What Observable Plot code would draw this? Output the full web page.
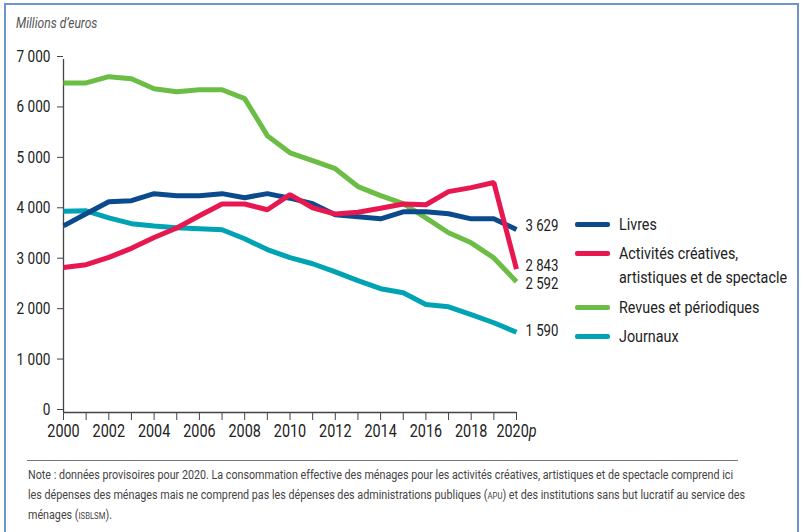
<!DOCTYPE html>
<html><head><meta charset="utf-8">
<script src="https://cdn.jsdelivr.net/npm/d3@7"></script>
<script src="https://cdn.jsdelivr.net/npm/@observablehq/plot@0.6"></script>
<style>
body{margin:0;background:#fff;}
#wrap{position:relative;width:803px;height:532px;overflow:hidden;font-family:Roboto,"Noto Sans",sans-serif;color:#222;background:#fff;}
#frame{position:absolute;left:4px;top:3px;width:795px;height:620px;border:2px solid #6d97cc;box-sizing:border-box;}
#unit{position:absolute;left:16px;top:15px;font-style:italic;font-size:14px;color:#555;white-space:nowrap;transform-origin:0 0;transform:scaleX(0.86);}
#chart{position:absolute;left:0;top:0;}
#sep{position:absolute;left:27px;top:460px;width:711px;height:1px;background:#777;}
.nl{position:absolute;left:28px;font-size:12.5px;line-height:20px;color:#444;white-space:nowrap;transform-origin:0 0;}
.sc{font-size:9px;}
.leg{position:absolute;left:575px;}
.sw{position:absolute;left:0;width:35px;height:5px;border-radius:2px;}
.lt{position:absolute;left:44px;font-size:17px;line-height:24px;white-space:nowrap;color:#222;transform-origin:0 0;}
</style></head>
<body>
<div id="wrap">
  <div id="frame"></div>
  <div id="unit">Millions d’euros</div>
  <div id="chart"></div>
  <div id="legend"></div>
  <div id="sep"></div>
  <div class="nl" id="n1" style="top:465px">Note : données provisoires pour 2020. La consommation effective des ménages pour les activités créatives, artistiques et de spectacle comprend ici</div>
  <div class="nl" id="n2" style="top:485px">les dépenses des ménages mais ne comprend pas les dépenses des administrations publiques (<span class="sc">APU</span>) et des institutions sans but lucratif au service des</div>
  <div class="nl" id="n3" style="top:505px">ménages (<span class="sc">ISBLSM</span>).</div>
</div>
<script>
const years = [2000,2001,2002,2003,2004,2005,2006,2007,2008,2009,2010,2011,2012,2013,2014,2015,2016,2017,2018,2019,2020];
const livres   = [3700,3940,4180,4200,4340,4300,4300,4340,4260,4340,4250,4140,3920,3880,3840,3980,3980,3940,3840,3840,3629];
const activites= [2877,2930,3075,3255,3470,3660,3900,4135,4135,4020,4320,4060,3935,3970,4050,4135,4120,4380,4460,4560,2843];
const revues   = [6535,6535,6660,6620,6420,6360,6400,6400,6225,5490,5150,4995,4835,4480,4300,4140,3860,3565,3365,3065,2592];
const journaux = [3990,4000,3860,3745,3700,3665,3645,3625,3445,3230,3070,2950,2790,2615,2455,2375,2140,2095,1940,1780,1590];
const seriesNames = ["Journaux","Revues et périodiques","Livres","Activités créatives, artistiques et de spectacle"];
const seriesValues = [journaux, revues, livres, activites];
const seriesColors = ["#00a3b4","#6cbd45","#0b4b8d","#e8174f"];
const yTicks = [0,1000,2000,3000,4000,5000,6000,7000];
const xLabelYears = [2000,2002,2004,2006,2008,2010,2012,2014,2016,2018,2020];

const rows = [];
seriesNames.forEach((s,i)=>years.forEach((y,j)=>rows.push({series:s, year:y, value:seriesValues[i][j]})));
const fmt = v => d3.format(",")(v).replace(/,/g," ");
const labelDy = {"Journaux":-2,"Revues et périodiques":2,"Livres":-4,"Activités créatives, artistiques et de spectacle":-3};

const svg = Plot.plot({
  width: 803, height: 450,
  marginLeft: 63, marginRight: 287, marginTop: 59, marginBottom: 38,
  style: {background:"transparent", fontFamily:'Roboto,"Noto Sans",sans-serif', color:"#222", overflow:"visible"},
  x: {domain:[2000,2020]},
  y: {domain:[0,7000]},
  color: {domain: seriesNames, range: seriesColors},
  marks: [
    Plot.axisY({ticks: yTicks, tickSize: 6, tickPadding: 7, tickFormat: fmt, fontSize: 17, dy: -3, label: null, stroke:"#444"}),
    Plot.axisX({ticks: years, tickSize: 8, tickPadding: 4, fontSize: 18, label: null, stroke:"#444",
      tickFormat: d => xLabelYears.includes(d) ? (d === 2020 ? "2020p" : String(d)) : ""}),
    Plot.ruleX([2000], {stroke:"#444", strokeWidth:1.3}),
    Plot.ruleY([0], {stroke:"#444", strokeWidth:1.3}),
    Plot.line(rows, {x:"year", y:"value", z:"series", stroke:"series", strokeWidth:5, strokeLinejoin:"miter", strokeLinecap:"butt"}),
    ...seriesNames.map(s => Plot.text(rows.filter(r => r.series===s && r.year===2020), {
      x:"year", y:"value", text: d => fmt(d.value), dx: 9, dy: labelDy[s], textAnchor:"start", fontSize:16.5, fill:"#222"}))
  ]
});
document.getElementById("chart").appendChild(svg);
d3.select(svg).selectAll("text").each(function(){
  const t = d3.select(this);
  if (t.text() === "2020p") {
    t.text("2020");
    t.append("tspan").attr("font-style","italic").text("p");
  }
});

// legend
const legendOrder = ["Livres","Activités créatives, artistiques et de spectacle","Revues et périodiques","Journaux"];
const legendLines = {"Activités créatives, artistiques et de spectacle":["Activités créatives,","artistiques et de spectacle"]};
const legendTop = [224, 253, 307, 336];
const leg = document.getElementById("legend");
const legTexts = [];
legendOrder.forEach((s,i)=>{
  const c = seriesColors[seriesNames.indexOf(s)];
  const item = document.createElement("div");
  item.className = "leg";
  item.style.top = legendTop[i] + "px";
  const sw = document.createElement("div");
  sw.className = "sw"; sw.style.background = c; sw.style.top = "-2.5px";
  item.appendChild(sw);
  (legendLines[s] || [s]).forEach((line,k)=>{
    const t = document.createElement("div");
    t.className = "lt"; t.textContent = line; t.style.top = (-12 + k*24) + "px";
    item.appendChild(t);
    legTexts.push(t);
  });
  leg.appendChild(item);
});

function fit(){
  // condense svg texts horizontally (narrow typeface look)
  d3.select(svg).selectAll("text").each(function(){
    if (this.textContent === "") return;
    this.removeAttribute("textLength");
    const L = this.getComputedTextLength();
    if (L > 0) {
      this.setAttribute("textLength", (L * 0.8).toFixed(2));
      this.setAttribute("lengthAdjust", "spacingAndGlyphs");
    }
  });
  legTexts.forEach(t => { t.style.transform = ""; });
  const k = 168 / legTexts[2].getBoundingClientRect().width;
  legTexts.forEach(t => { t.style.transform = `scaleX(${k})`; });
  const n1 = document.getElementById("n1"), n2 = document.getElementById("n2"), n3 = document.getElementById("n3");
  [n1,n2,n3].forEach(n => n.style.transform = "");
  const k1 = 705 / n1.getBoundingClientRect().width;
  const k2 = 717 / n2.getBoundingClientRect().width;
  n1.style.transform = `scaleX(${k1})`;
  n2.style.transform = `scaleX(${k2})`;
  n3.style.transform = `scaleX(${k1})`;
}
fit();
if (document.fonts && document.fonts.ready) document.fonts.ready.then(fit);
</script>
</body></html>
